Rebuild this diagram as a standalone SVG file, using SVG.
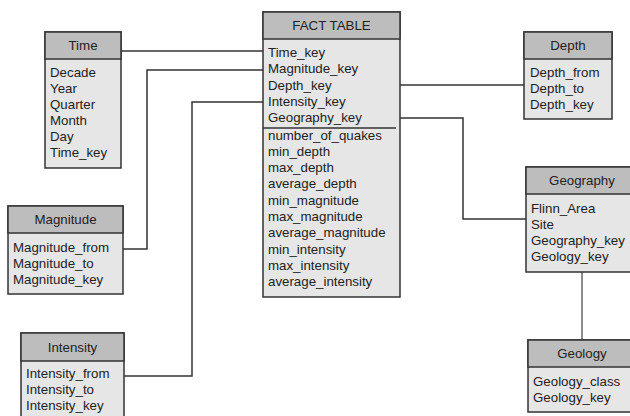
<svg xmlns="http://www.w3.org/2000/svg" width="630" height="416" viewBox="0 0 630 416">
<style>
.body{fill:#e6e6e6;stroke:#333;stroke-width:1.5}
.head{fill:#bdbdbd;stroke:#333;stroke-width:1.5}
.t{font-family:"Liberation Sans",Arial,sans-serif;font-size:13.3px;fill:#222}
.h{font-family:"Liberation Sans",Arial,sans-serif;font-size:13.3px;fill:#222;text-anchor:middle}
.c{fill:none;stroke:#333;stroke-width:1.5}
.c2{fill:none;stroke:#666;stroke-width:1.5}
</style>
<rect width="630" height="416" fill="#fff"/>
<g id="connectors">
<path class="c" d="M121 51H263"/>
<path class="c" d="M263 70H147V249H123"/>
<path class="c" d="M263 102H192V376H124"/>
<path class="c" d="M400 85H524"/>
<path class="c" d="M400 118H463V219H526"/>
<path class="c2" d="M582 272V340"/>
</g>
<g id="fact">
<rect class="body" x="263" y="12" width="137" height="285"/>
<rect class="head" x="263" y="12" width="137" height="27"/>
<text class="h" x="331.5" y="30">FACT TABLE</text>
<text class="t"><tspan x="268" y="57">Time_key</tspan><tspan x="268" y="73.3">Magnitude_key</tspan><tspan x="268" y="89.6">Depth_key</tspan><tspan x="268" y="105.9">Intensity_key</tspan><tspan x="268" y="122.2">Geography_key</tspan></text>
<path d="M263 128H396" stroke="#333" stroke-width="1.5"/>
<text class="t"><tspan x="268" y="139.5">number_of_quakes</tspan><tspan x="268" y="155.8">min_depth</tspan><tspan x="268" y="172.1">max_depth</tspan><tspan x="268" y="188.4">average_depth</tspan><tspan x="268" y="204.7">min_magnitude</tspan><tspan x="268" y="221">max_magnitude</tspan><tspan x="268" y="237.3">average_magnitude</tspan><tspan x="268" y="253.6">min_intensity</tspan><tspan x="268" y="269.9">max_intensity</tspan><tspan x="268" y="286.2">average_intensity</tspan></text>
</g>
<g id="time">
<rect class="body" x="45" y="32" width="76" height="136"/>
<rect class="head" x="45" y="32" width="76" height="27"/>
<text class="h" x="83" y="50">Time</text>
<text class="t"><tspan x="50" y="76.5">Decade</tspan><tspan x="50" y="92.5">Year</tspan><tspan x="50" y="108.5">Quarter</tspan><tspan x="50" y="124.5">Month</tspan><tspan x="50" y="140.5">Day</tspan><tspan x="50" y="156.5">Time_key</tspan></text>
</g>
<g id="magnitude">
<rect class="body" x="8" y="206" width="115" height="88"/>
<rect class="head" x="8" y="206" width="115" height="27"/>
<text class="h" x="65.5" y="224">Magnitude</text>
<text class="t"><tspan x="13" y="251.5">Magnitude_from</tspan><tspan x="13" y="267.5">Magnitude_to</tspan><tspan x="13" y="283.5">Magnitude_key</tspan></text>
</g>
<g id="intensity">
<rect class="body" x="21" y="333" width="103" height="95"/>
<rect class="head" x="21" y="333" width="103" height="28"/>
<text class="h" x="72.5" y="351.5">Intensity</text>
<text class="t"><tspan x="26" y="378">Intensity_from</tspan><tspan x="26" y="394">Intensity_to</tspan><tspan x="26" y="410">Intensity_key</tspan></text>
</g>
<g id="depth">
<rect class="body" x="524" y="32" width="88" height="87"/>
<rect class="head" x="524" y="32" width="88" height="27"/>
<text class="h" x="568" y="50">Depth</text>
<text class="t"><tspan x="530" y="76.5">Depth_from</tspan><tspan x="530" y="92.5">Depth_to</tspan><tspan x="530" y="108.5">Depth_key</tspan></text>
</g>
<g id="geography">
<rect class="body" x="526" y="167" width="112" height="105"/>
<rect class="head" x="526" y="167" width="112" height="27"/>
<text class="h" x="582" y="185">Geography</text>
<text class="t"><tspan x="531" y="212.5">Flinn_Area</tspan><tspan x="531" y="228.5">Site</tspan><tspan x="531" y="244.5">Geography_key</tspan><tspan x="531" y="260.5">Geology_key</tspan></text>
</g>
<g id="geology">
<rect class="body" x="528" y="340" width="108" height="72"/>
<rect class="head" x="528" y="340" width="108" height="27"/>
<text class="h" x="582" y="358">Geology</text>
<text class="t"><tspan x="533" y="385.5">Geology_class</tspan><tspan x="533" y="401.5">Geology_key</tspan></text>
</g>
</svg>
